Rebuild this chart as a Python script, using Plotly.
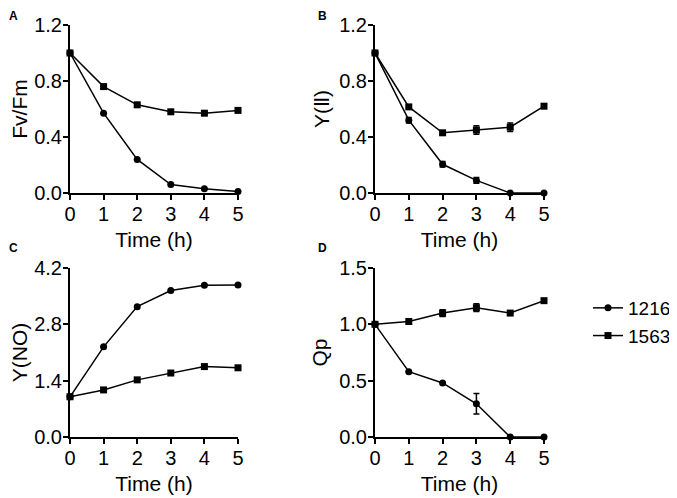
import plotly.graph_objects as go

time = [0, 1, 2, 3, 4, 5]
series_names = ["1216", "1563"]

# Panel A: Fv/Fm
fvfm_1216 = [1.0, 0.57, 0.24, 0.06, 0.03, 0.01]
fvfm_1563 = [1.0, 0.76, 0.63, 0.58, 0.57, 0.59]
fvfm_err_1216 = [0, 0, 0, 0, 0, 0]
fvfm_err_1563 = [0, 0, 0, 0, 0, 0]

# Panel B: Y(II)
yii_1216 = [1.0, 0.52, 0.205, 0.09, 0.0, 0.0]
yii_1563 = [1.0, 0.615, 0.43, 0.45, 0.47, 0.62]
yii_err_1216 = [0, 0.02, 0.02, 0.02, 0, 0]
yii_err_1563 = [0, 0, 0.01, 0.03, 0.03, 0]

# Panel C: Y(NO)
yno_1216 = [1.0, 2.24, 3.24, 3.64, 3.77, 3.78]
yno_1563 = [1.0, 1.17, 1.42, 1.59, 1.75, 1.72]
yno_err_1216 = [0, 0, 0, 0, 0, 0]
yno_err_1563 = [0, 0, 0, 0, 0, 0]

# Panel D: Qp
qp_1216 = [1.0, 0.58, 0.48, 0.295, 0.0, 0.0]
qp_1563 = [1.0, 1.025, 1.10, 1.148, 1.10, 1.21]
qp_err_1216 = [0, 0, 0, 0.09, 0, 0]
qp_err_1563 = [0, 0, 0.03, 0.035, 0, 0]

y_titles = ["Fv/Fm", "Y(Ⅱ)", "Y(NO)", "Qp"]
y_ranges = [[0, 1.2], [0, 1.2], [0, 4.2], [0, 1.5]]
y_ticks = [[0.0, 0.4, 0.8, 1.2], [0.0, 0.4, 0.8, 1.2], [0.0, 1.4, 2.8, 4.2], [0.0, 0.5, 1.0, 1.5]]
panel_labels = ["A", "B", "C", "D"]

panels = [
    (fvfm_1216, fvfm_1563, fvfm_err_1216, fvfm_err_1563),
    (yii_1216, yii_1563, yii_err_1216, yii_err_1563),
    (yno_1216, yno_1563, yno_err_1216, yno_err_1563),
    (qp_1216, qp_1563, qp_err_1216, qp_err_1563),
]

# page has an 8px body margin: figure sized to fit the window exactly
OFF = 8
FW, FH = 677 - OFF, 498 - OFF


def fx(p):
    return (p - OFF) / FW


def fy(p):
    return 1 - (p - OFF) / FH


x_doms = [[fx(70), fx(238)], [fx(375), fx(544)], [fx(70), fx(238)], [fx(375), fx(544)]]
y_doms = [[fy(193), fy(25)], [fy(193), fy(25)], [fy(437), fy(268)], [fy(437), fy(268)]]

font = dict(family="Liberation Sans, Arial, sans-serif", color="black")
fig = go.Figure()
symbols = ["circle", "square"]

for i, (a, b, ea, eb) in enumerate(panels):
    xa = "x" if i == 0 else f"x{i+1}"
    ya = "y" if i == 0 else f"y{i+1}"
    for j, (vals, errs) in enumerate([(a, ea), (b, eb)]):
        fig.add_trace(go.Scatter(
            x=time, y=vals, xaxis=xa, yaxis=ya,
            mode="lines+markers", name=series_names[j],
            legendgroup=series_names[j], showlegend=(i == 0),
            line=dict(color="black", width=1.5),
            marker=dict(symbol=symbols[j], size=7, color="black"),
            error_y=dict(type="data", array=errs, visible=True, color="black",
                         thickness=1.5, width=3),
            cliponaxis=False,
        ))

layout = dict(
    width=FW, height=FH, margin=dict(l=0, r=0, t=0, b=0, autoexpand=False),
    paper_bgcolor="white", plot_bgcolor="white",
    font=dict(size=20, **font),
    legend=dict(x=fx(588), y=fy(289), xref="container", yref="container",
                xanchor="left", yanchor="top",
                font=dict(size=19, **font), tracegroupgap=0,
                bgcolor="rgba(0,0,0,0)"),
    annotations=[],
)

# (x centre, y top) in page pixels
lbl_pos = [(13, 8), (322, 8), (13, 240), (322, 240)]
y_standoff = [4, 4, 5, 6]
for i in range(4):
    xk = "xaxis" if i == 0 else f"xaxis{i+1}"
    yk = "yaxis" if i == 0 else f"yaxis{i+1}"
    xa = "x" if i == 0 else f"x{i+1}"
    ya = "y" if i == 0 else f"y{i+1}"
    layout[xk] = dict(
        domain=x_doms[i], anchor=ya, range=[0, 5], tickvals=time,
        automargin=False, ticklabelstandoff=-3,
        showline=True, linecolor="black", linewidth=2, ticks="outside",
        ticklen=5, tickwidth=2, tickcolor="black", showgrid=False, zeroline=False,
        tickfont=dict(size=20, **font),
        title=dict(text="Time (h)", font=dict(size=21, **font), standoff=8),
    )
    layout[yk] = dict(
        domain=y_doms[i], anchor=xa, range=y_ranges[i], tickvals=y_ticks[i],
        tickformat=".1f", automargin=False, ticklabelstandoff=-3,
        showline=True, linecolor="black", linewidth=2, ticks="outside",
        ticklen=5, tickwidth=2, tickcolor="black", showgrid=False, zeroline=False,
        tickfont=dict(size=20, **font),
        title=dict(text=y_titles[i], font=dict(size=21, **font), standoff=y_standoff[i]),
    )
    px_, py_ = lbl_pos[i]
    layout["annotations"].append(dict(
        text=f"<b>{panel_labels[i]}</b>", x=fx(px_), y=fy(py_),
        xref="paper", yref="paper", xanchor="center", yanchor="top", showarrow=False,
        borderpad=0, font=dict(size=12, **font),
    ))

fig.update_layout(**layout)
fig.write_html("out.html")
